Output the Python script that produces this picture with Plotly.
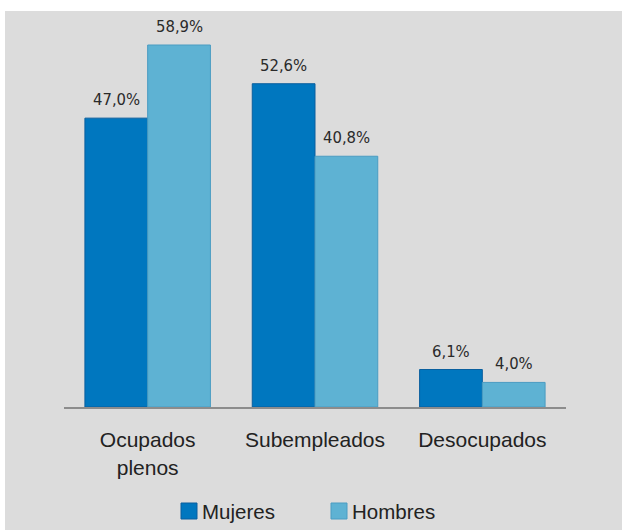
import plotly.graph_objects as go

categories = ["Ocupados<br>plenos", "Subempleados", "Desocupados"]
mujeres = [47.0, 52.6, 6.1]
hombres = [58.9, 40.8, 4.0]
series_names = ["Mujeres", "Hombres"]

W, H = 622, 530
L, R, T, B = 64, 56, 10, 123
PW, PH = W - L - R, H - T - B

BG = "#dcdcdc"
C_M, C_H = "#0077bf", "#5eb2d3"
C_M_LINE, C_H_LINE = "#0a5f9e", "#4a9cc2"
TEXT = "#222222"
LABEL_FONT = "Liberation Sans Narrow, DejaVu Sans Condensed, Arial Narrow, sans-serif"
MAIN_FONT = "Liberation Sans, Arial, sans-serif"

def px_x(p):
    return (p - L) / PW

def px_y(p):
    return (H - B - p) / PH

fig = go.Figure()
fig.add_trace(go.Bar(x=categories, y=mujeres, name=series_names[0],
                     marker=dict(color=C_M, line=dict(color=C_M_LINE, width=1))))
fig.add_trace(go.Bar(x=categories, y=hombres, name=series_names[1],
                     marker=dict(color=C_H, line=dict(color=C_H_LINE, width=1))))

bargap = 0.25
cat_px = PW / len(categories)
half = cat_px * (1 - bargap) / 4

def fmt(v):
    return f"{v:.1f}".replace(".", ",") + "%"

annotations = []
for vals, sh in ((mujeres, -half), (hombres, half)):
    for c, v in zip(categories, vals):
        annotations.append(dict(x=c, y=v, xref="x", yref="y", text=fmt(v),
                                showarrow=False, xshift=sh, yshift=7, yanchor="bottom",
                                font=dict(family=LABEL_FONT, size=16.5, color="#2a2a2a")))

# background panel and manual legend
shapes = [dict(type="rect", xref="paper", yref="paper", layer="below",
               x0=px_x(5), x1=px_x(W), y0=px_y(H), y1=px_y(11),
               fillcolor=BG, line=dict(width=0))]
leg = [(181, series_names[0], C_M, C_M_LINE), (331, series_names[1], C_H, C_H_LINE)]
for x0, name, col, lc in leg:
    shapes.append(dict(type="rect", xref="paper", yref="paper",
                       x0=px_x(x0), x1=px_x(x0 + 16), y0=px_y(519), y1=px_y(503),
                       fillcolor=col, line=dict(color=lc, width=1)))
    annotations.append(dict(x=px_x(x0 + 19), y=px_y(511), xref="paper", yref="paper",
                            text=name, showarrow=False, xanchor="left", yanchor="middle",
                            font=dict(family=MAIN_FONT, size=20.5, color=TEXT)))

fig.update_layout(
    width=W, height=H,
    margin=dict(l=L, r=R, t=T, b=B, pad=0),
    paper_bgcolor="white", plot_bgcolor="rgba(0,0,0,0)",
    barmode="group", bargap=bargap, bargroupgap=0,
    showlegend=False,
    font=dict(family=MAIN_FONT, size=21, color=TEXT),
    xaxis=dict(showline=True, linecolor="#8c8c8c", linewidth=2, showgrid=False,
               ticks="", ticklabelstandoff=13, tickfont=dict(size=21, color=TEXT),
               fixedrange=True),
    yaxis=dict(visible=False, range=[0, PH / 6.146], showgrid=False, zeroline=False,
               fixedrange=True),
    shapes=shapes, annotations=annotations,
)

fig.write_html("out.html", config={"displayModeBar": False},
               post_script="document.body.style.margin='0';document.body.style.overflow='hidden';")
